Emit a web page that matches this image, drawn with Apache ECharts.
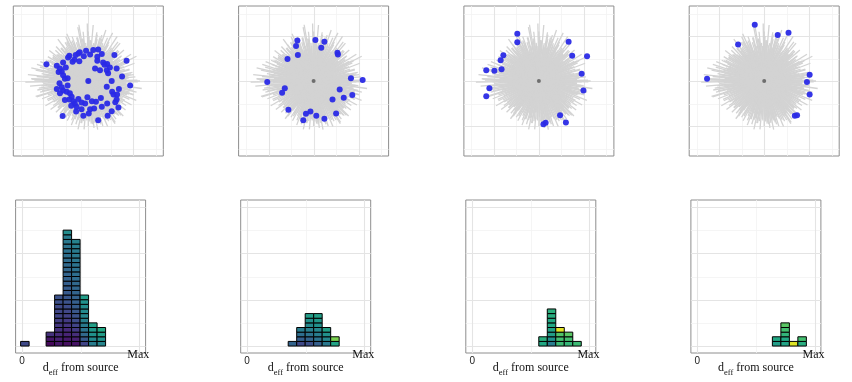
<!DOCTYPE html>
<html><head><meta charset="utf-8">
<script src="https://cdn.jsdelivr.net/npm/echarts@6/dist/echarts.min.js"></script>
<style>html,body{margin:0;padding:0;background:#fff}#c{width:852px;height:382px}</style>
</head><body><div id="c"></div>
<script>
// ---------------- DATA ----------------
// Star network shared by all four top panels: edges from the source (angle in degrees, length in layout units)
const edgeAngles = [
  0,2,5,7,9,11,14,16,18,21, 23,25,27,30,32,34,37,39,41,43,
  46,48,50,53,55,57,59,62,64,66, 69,71,73,75,78,80,82,85,87,89,
  91,94,96,98,101,103,105,107,110,112, 114,117,119,121,123,126,128,130,133,135,
  137,139,142,144,146,149,151,153,155,158, 160,162,165,167,169,171,174,176,178,181,
  183,185,187,190,192,194,197,199,201,203, 206,208,210,213,215,217,219,222,224,226,
  229,231,233,235,238,240,242,245,247,249, 251,254,256,258,261,263,265,267,270,272,
  274,277,279,281,283,286,288,290,293,295, 297,299,302,304,306,309,311,313,315,318,
  320,322,325,327,329,331,334,336,338,341, 343,345,347,350,352,354,357,359
];
const edgeLengths = [
  1.15,0.85,1.05,0.9,0.8,1.0,0.75,0.95,0.85,1.1, 0.8,0.95,1.0,0.78,1.12,0.85,0.9,0.7,1.05,0.88,
  0.95,0.8,1.1,0.85,0.9,1.18,0.75,0.98,0.85,1.05, 0.9,1.2,0.8,1.0,0.95,1.1,0.85,1.25,0.9,1.0,
  1.28,0.85,1.1,0.95,1.22,0.8,1.0,0.9,1.05,0.85, 0.95,1.1,0.8,1.0,0.9,1.15,0.85,0.95,1.05,0.8,
  1.0,0.9,1.1,0.85,0.95,1.05,0.8,1.0,0.9,1.15, 0.85,1.2,0.95,1.3,0.9,1.05,1.35,0.88,1.25,1.4,
  1.0,1.3,0.9,1.15,1.05,0.85,1.2,0.95,1.1,0.85, 1.0,0.9,1.1,0.8,0.95,1.05,0.85,0.9,1.0,0.8,
  0.95,0.85,1.05,0.8,0.95,0.9,1.0,0.85,0.95,1.05, 0.9,1.0,0.85,1.1,0.95,0.9,1.08,0.85,1.0,0.9,
  0.95,1.05,0.85,1.1,0.9,1.0,1.05,0.85,1.1,0.95, 1.0,0.9,1.12,0.85,1.05,0.95,1.0,0.8,1.1,0.9,
  0.95,1.05,0.85,1.0,0.9,1.1,0.85,1.0,1.15,0.9, 1.05,0.95,1.1,0.9,1.2,1.0,0.85,1.1
];
// second, shorter set of edges filling the dense core
const coreAngles = [
  1,4,8,12,15,19,22,26,29,33, 36,40,44,47,51,54,58,61,65,68,
  72,76,79,83,86,90,93,97,100,104, 108,111,115,118,122,125,129,132,136,140,
  143,147,150,154,157,161,164,168,172,175, 179,182,186,189,193,196,200,204,207,211,
  214,218,221,225,228,232,236,239,243,246, 250,253,257,260,264,268,271,275,278,282,
  285,289,292,296,300,303,307,310,314,317, 321,324,328,332,335,339,342,346,349,353, 356
];
const coreLengths = [
  0.7,0.9,0.65,0.8,0.95,0.72,0.85,0.6,0.9,0.75, 0.82,0.68,0.95,0.74,0.88,0.62,0.8,0.92,0.7,0.85,
  0.98,0.75,1.05,0.8,0.9,1.1,0.78,0.95,0.85,1.0, 0.72,0.9,0.8,1.0,0.7,0.88,0.95,0.75,0.85,0.92,
  0.8,0.95,0.7,1.05,0.85,0.9,1.12,0.8,1.0,1.15, 1.2,0.9,1.05,0.85,1.1,0.95,0.8,1.0,0.75,0.9,
  0.85,0.7,0.9,0.8,0.75,0.92,0.68,0.85,0.8,0.72, 0.9,0.75,0.85,0.95,0.7,0.88,0.8,0.92,0.75,0.85,
  0.95,0.8,0.9,0.72,1.0,0.85,0.78,0.95,0.82,0.9, 0.75,0.88,0.7,0.92,0.8,0.85,0.95,0.72,0.9,0.8, 0.85
];
// Highlighted (blue) nodes, one list per panel (layout x, y; source at 0,0)
const nodes1 = [
  [0.22,0.70],[0.11,0.69],[-0.05,0.67],[-0.19,0.64],[-0.22,0.61],[0.04,0.59],[0.20,0.54],[0.58,0.58],
  [-0.42,0.56],[-0.31,0.47],[-0.35,0.43],[-0.20,0.44],[0.33,0.41],[0.42,0.38],[0.85,0.45],[-0.93,0.37],
  [-0.70,0.34],[-0.56,0.41],[-0.63,0.28],[-0.59,0.21],[-0.56,0.13],[0.15,0.28],[0.26,0.24],[0.41,0.24],
  [0.44,0.17],[0.63,0.28],[-0.46,0.06],[0,0],[0.52,0.0],[0.41,-0.13],[-0.64,-0.05],[-0.59,-0.14],
  [-0.56,-0.21],[-0.63,-0.27],[-0.48,-0.24],[-0.41,-0.27],[-0.37,-0.35],[-0.52,-0.42],[-0.42,-0.41],[0.53,-0.24],
  [0.56,-0.30],[0.64,-0.30],[0.63,-0.41],[0.93,-0.10],[-0.02,-0.36],[0.17,-0.46],[0.42,-0.50],[-0.30,-0.50],
  [-0.26,-0.57],[-0.15,-0.48],[-0.07,-0.50],[-0.15,-0.63],[-0.27,-0.68],[0.04,-0.63],[0.13,-0.61],[0.30,-0.57],
  [0.67,-0.59],[0.52,-0.67],[0.43,-0.77],[0.22,-0.87],[0.01,-0.72],[-0.11,-0.77],[-0.57,-0.78],[-0.66,0.20],
  [-0.50,0.30],[-0.45,0.52],[-0.28,0.58],[0.30,0.60],[0.36,0.36],[0.48,0.30],[-0.70,-0.18],[-0.46,-0.10],
  [-0.33,-0.45],[-0.22,-0.40],[-0.38,-0.55],[0.08,-0.45],[0.28,-0.38],[0.60,-0.47],[0.68,-0.18],[0.75,0.10],
  [0.20,0.45],[-0.10,0.55],[-0.52,0.05]
];
const nodes2 = [
  [-0.36,0.90],[0.04,0.91],[0.24,0.87],[-0.39,0.78],[0.17,0.74],[0.53,0.63],[0.54,0.59],[-0.35,0.58],
  [-0.58,0.49],[0.83,0.06],[1.09,0.02],[-1.03,-0.02],[-0.64,-0.16],[0.58,-0.19],[-0.70,-0.26],[0.86,-0.31],
  [0.67,-0.37],[0.42,-0.41],[-0.56,-0.64],[-0.07,-0.68],[-0.17,-0.73],[0.50,-0.72],[0.06,-0.77],[0.24,-0.84],
  [-0.23,-0.87]
];
const nodes3 = [
  [-0.48,1.05],[-0.48,0.86],[0.66,0.87],[-0.79,0.57],[0.74,0.56],[1.07,0.55],[-0.85,0.46],[-1.17,0.24],
  [-0.99,0.23],[-0.83,0.26],[0.95,0.16],[-1.10,-0.16],[0.99,-0.21],[-1.17,-0.34],[0.47,-0.76],[0.60,-0.92],
  [0.10,-0.96],[0.15,-0.93]
];
const nodes4 = [
  [-0.21,1.25],[0.30,1.02],[0.54,1.07],[-0.58,0.81],[-1.27,0.05],[1.01,0.14],[0.95,-0.02],[1.01,-0.30],
  [0.68,-0.77],[0.73,-0.76]
];
// Histograms of d_eff from source: bin index and, per bin, the colour value (0..1, viridis) of each stacked cell
const bins1 = [0,3,4,5,6,7,8,9];
const cells1 = [
  [0.22],
  [0.02,0.06,0.14],
  [0.06,0.09,0.12,0.14,0.16,0.18,0.2,0.21,0.22,0.24,0.25],
  [0.04,0.07,0.1,0.12,0.15,0.17,0.19,0.21,0.23,0.25,0.27,0.28,0.29,0.3,0.31,0.32,0.33,0.34,0.35,0.36,0.37,0.38,0.4,0.42,0.48],
  [0.05,0.09,0.13,0.17,0.2,0.23,0.25,0.27,0.29,0.3,0.31,0.32,0.33,0.34,0.35,0.36,0.37,0.38,0.39,0.4,0.41,0.42,0.44],
  [0.2,0.28,0.34,0.38,0.41,0.43,0.45,0.47,0.48,0.5,0.55],
  [0.42,0.47,0.5,0.53,0.56],
  [0.45,0.5,0.55,0.6]
];
const bins2 = [5,6,7,8,9,10];
const cells2 = [
  [0.32],
  [0.22,0.3,0.36,0.42],
  [0.24,0.32,0.38,0.43,0.47,0.5,0.55],
  [0.3,0.38,0.42,0.46,0.5,0.53,0.56],
  [0.4,0.46,0.5,0.56],
  [0.58,0.8]
];
const bins3 = [8,9,10,11,12];
const cells3 = [
  [0.6,0.63],
  [0.42,0.5,0.55,0.58,0.6,0.6,0.62,0.63],
  [0.68,0.7,0.72,0.96],
  [0.66,0.7,0.74],
  [0.68]
];
const bins4 = [9,10,11,12];
const cells4 = [
  [0.55,0.6],
  [0.58,0.6,0.65,0.7,0.74],
  [0.95],
  [0.62,0.7]
];
const xTickLabels = ['0', 'Max'];
const X_MAX = 13.8;           // position of "Max" on the histogram axis (bin units)
const Y_LIMIT = 30;           // histogram count axis limit
const yBreaks = [0, 10, 20, 30];
const yMinorBreaks = [5, 15, 25];
const layoutBreaks = [-1, 0, 1];
const layoutMinorBreaks = [-1.5, -0.5, 0.5, 1.5];

// ---------------- LAYOUT / STYLE ----------------
const TOP = {lefts: [13.3, 238.6, 463.9, 689.2], top: 6, size: 150, half: 5 / 3};
const BOT = {lefts: [15.6, 240.7, 465.8, 690.9], top: 200, width: 130, height: 153, xmin: -0.75, xmax: 14.55};
const BIN_SHIFT = -0.16;
const EDGE_COLOR = 'rgb(211,211,211)';
const NODE_COLOR = '#2a2ae6';
const MAJOR = '#e4e4e4', MINOR = '#f3f3f3', BORDER = '#8e8e8e';

const VIR = ['#440154','#482475','#414487','#355f8d','#2a788e','#21918c','#22a884','#44bf70','#7ad151','#bddf26','#fde725'];
function hex(c){return [parseInt(c.slice(1,3),16),parseInt(c.slice(3,5),16),parseInt(c.slice(5,7),16)];}
function viridis(t){
  t = Math.max(0, Math.min(1, t));
  const s = t * (VIR.length - 1), i = Math.min(Math.floor(s), VIR.length - 2), f = s - i;
  const a = hex(VIR[i]), b = hex(VIR[i + 1]);
  return 'rgb(' + a.map((v, k) => Math.round(v + (b[k] - v) * f)).join(',') + ')';
}

const allNodes = [nodes1, nodes2, nodes3, nodes4];
const allBins = [bins1, bins2, bins3, bins4];
const allCells = [cells1, cells2, cells3, cells4];
const unionNodes = [].concat(nodes1, nodes2, nodes3, nodes4);
const edgeData = edgeAngles.map((a, i) => [edgeLengths[i], a]).concat(coreAngles.map((a, i) => [coreLengths[i], a]));

const grid = [], xAxis = [], yAxis = [], polar = [], angleAxis = [], radiusAxis = [], series = [];
const hidden = {axisLine:{show:false}, axisTick:{show:false}, axisLabel:{show:false}, splitLine:{show:false}};

function gridLineSeries(gi, vx, vxMinor, vy, vyMinor) {
  const data = [];
  vxMinor.forEach(v => data.push([v, 0, 0]));
  vyMinor.forEach(v => data.push([v, 1, 0]));
  vx.forEach(v => data.push([v, 0, 1]));
  vy.forEach(v => data.push([v, 1, 1]));
  return {
    type: 'custom', xAxisIndex: gi, yAxisIndex: gi, silent: true, z: 1,
    data: data,
    renderItem: function (params, api) {
      const cs = params.coordSys;
      const v = api.value(0), o = api.value(1), major = api.value(2);
      let shape;
      if (o === 0) { const x = Math.round(api.coord([v, 0])[0]) + 0.5; shape = {x1: x, y1: cs.y, x2: x, y2: cs.y + cs.height}; }
      else { const y = Math.round(api.coord([0, v])[1]) + 0.5; shape = {x1: cs.x, y1: y, x2: cs.x + cs.width, y2: y}; }
      return {type: 'line', shape: shape, style: {stroke: major ? MAJOR : MINOR, lineWidth: major ? 1.1 : 0.8}};
    }
  };
}

function edgeLine(p0, p1) {
  return {type: 'line', shape: {x1: p0[0], y1: p0[1], x2: p1[0], y2: p1[1]}, style: {stroke: EDGE_COLOR, lineWidth: 1.3}};
}

// top panels
for (let i = 0; i < 4; i++) {
  const L = TOP.lefts[i];
  grid.push({left: L, top: TOP.top, width: TOP.size, height: TOP.size, show: true, borderColor: BORDER, borderWidth: 1, backgroundColor: '#fff'});
  xAxis.push(Object.assign({type: 'value', gridIndex: i, min: -TOP.half, max: TOP.half}, hidden));
  yAxis.push(Object.assign({type: 'value', gridIndex: i, min: -TOP.half, max: TOP.half}, hidden));
  polar.push({center: [L + TOP.size / 2, TOP.top + TOP.size / 2], radius: TOP.size / 2});
  angleAxis.push({polarIndex: i, type: 'value', min: 0, max: 360, startAngle: 0, clockwise: false, show: false, splitLine: {show: false}});
  radiusAxis.push({polarIndex: i, type: 'value', min: 0, max: TOP.half, show: false, splitLine: {show: false}});
  series.push(gridLineSeries(i, layoutBreaks, layoutMinorBreaks, layoutBreaks, layoutMinorBreaks));
  series.push({
    type: 'custom', coordinateSystem: 'polar', polarIndex: i, silent: true, z: 2, data: edgeData,
    renderItem: function (params, api) {
      return edgeLine(api.coord([0, api.value(1)]), api.coord([api.value(0), api.value(1)]));
    }
  });
  series.push({
    type: 'custom', xAxisIndex: i, yAxisIndex: i, silent: true, z: 2, data: unionNodes,
    renderItem: function (params, api) {
      return edgeLine(api.coord([0, 0]), api.coord([api.value(0), api.value(1)]));
    }
  });
  series.push({
    type: 'scatter', xAxisIndex: i, yAxisIndex: i, silent: true, z: 3, data: [[0, 0]],
    symbolSize: 4, itemStyle: {color: '#555'}
  });
  series.push({
    type: 'scatter', xAxisIndex: i, yAxisIndex: i, silent: true, z: 4, data: allNodes[i],
    symbolSize: 6, itemStyle: {color: NODE_COLOR, opacity: 0.95}
  });
}

// bottom panels
for (let i = 0; i < 4; i++) {
  const gi = 4 + i;
  grid.push({left: BOT.lefts[i], top: BOT.top, width: BOT.width, height: BOT.height, show: true, borderColor: BORDER, borderWidth: 1, backgroundColor: '#fff'});
  xAxis.push(Object.assign({type: 'value', gridIndex: gi, min: BOT.xmin, max: BOT.xmax}, hidden));
  yAxis.push(Object.assign({type: 'value', gridIndex: gi, min: -Y_LIMIT * 0.05, max: Y_LIMIT * 1.05}, hidden));
  series.push(gridLineSeries(gi, [0, X_MAX], [X_MAX / 2], yBreaks, yMinorBreaks));
  const data = [];
  allBins[i].forEach((b, k) => allCells[i][k].forEach((t, r) => data.push([b, r, t])));
  series.push({
    type: 'custom', xAxisIndex: gi, yAxisIndex: gi, silent: true, z: 3, data: data,
    renderItem: function (params, api) {
      const b = api.value(0), r = api.value(1);
      const a = api.coord([b + BIN_SHIFT, r + 1]);
      const c = api.coord([b + BIN_SHIFT + 1, r]);
      return {type: 'rect', shape: {x: a[0], y: a[1], width: c[0] - a[0], height: c[1] - a[1]},
        style: {fill: viridis(api.value(2)), stroke: '#000', lineWidth: 1}};
    }
  });
}

const chart = echarts.init(document.getElementById('c'), null, {renderer: 'canvas'});
chart.setOption({animation: false, backgroundColor: '#fff', grid, xAxis, yAxis, polar, angleAxis, radiusAxis, series});

const gfx = [];
for (let i = 0; i < 4; i++) {
  const gi = 4 + i;
  const p0 = chart.convertToPixel({gridIndex: gi}, [0, 0]);
  const pm = chart.convertToPixel({gridIndex: gi}, [X_MAX, 0]);
  const cx = BOT.lefts[i] + BOT.width / 2;
  gfx.push({type: 'text', x: p0[0], y: 361, silent: true,
    style: {text: xTickLabels[0], fontFamily: 'Liberation Sans', fontSize: 10, fill: '#222', align: 'center', verticalAlign: 'middle'}});
  gfx.push({type: 'text', x: pm[0] - 1, y: 355, silent: true,
    style: {text: xTickLabels[1], fontFamily: 'Liberation Serif', fontSize: 12, fill: '#111', align: 'center', verticalAlign: 'middle'}});
  gfx.push({type: 'text', x: cx, y: 368, silent: true,
    style: {text: '{m|d}{s|eff}{m| from source}', align: 'center', verticalAlign: 'middle',
      rich: {
        m: {fontFamily: 'Liberation Serif', fontSize: 12, fill: '#111', lineHeight: 18, verticalAlign: 'middle'},
        s: {fontFamily: 'Liberation Serif', fontSize: 8.5, fill: '#111', lineHeight: 9, verticalAlign: 'bottom'}
      }}});
}
chart.setOption({graphic: gfx});
</script></body></html>
